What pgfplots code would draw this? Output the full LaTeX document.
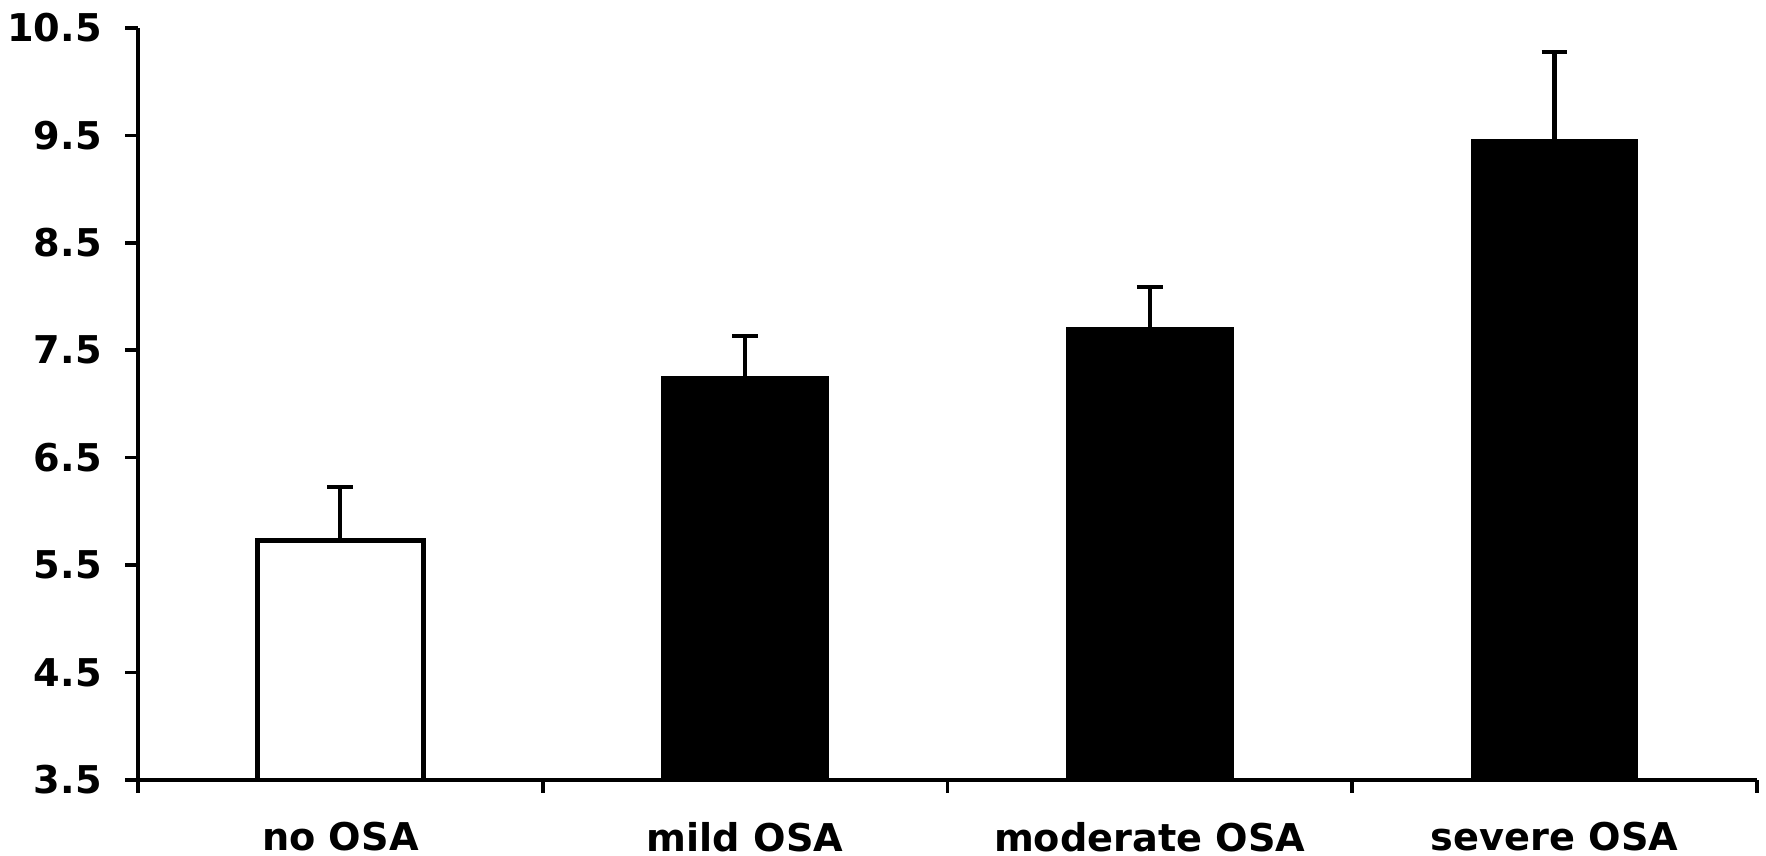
\documentclass[border=0pt]{standalone}
\usepackage{fontspec}
\setmainfont{DejaVu Sans}
\usepackage{pgfplots}
\pgfplotsset{compat=1.18}
\begin{document}
\begin{tikzpicture}
\begin{axis}[
  scale only axis,
  width=550pt, height=255.5pt,
  xmin=-0.5, xmax=3.5,
  ymin=3.5, ymax=10.5,
  ytick={3.5,4.5,...,10.5},
  yticklabel style={/pgf/number format/fixed, /pgf/number format/fixed zerofill, /pgf/number format/precision=1, xshift=-4.5pt},
  xtick={-0.5,0.5,1.5,2.5,3.5},
  xticklabels={{},{},{},{},{}},
  extra x ticks={0,1,2,3},
  extra x tick labels={no OSA, mild OSA, moderate OSA, severe OSA},
  extra x tick style={tick style={draw=none}, xticklabel style={yshift=-6.5pt}},
  axis lines=left,
  axis line style={-, line width=1.2pt},
  tick align=outside,
  major tick length=4.3pt,
  tick style={line width=1.2pt, black},
  /pgf/number format/assume math mode=true,
  ticklabel style={font=\fontsize{13}{15}\selectfont\bfseries},
  ybar,
  bar width=0.41,
  clip=false,
]
\coordinate (ll) at (rel axis cs:0,0);
\coordinate (ur) at (rel axis cs:1,1);
\addplot[bar shift=0pt, fill=white, draw=black, line width=1.6pt,
  error bars/.cd, y dir=plus, y explicit,
  error bar style={line width=1.4pt, black},
  error mark options={rotate=90, mark size=4.4pt, line width=1.4pt, black}]
  coordinates {(0,5.73) +- (0,0.50)};
\addplot[bar shift=0pt, fill=black, draw=black, line width=0.5pt,
  error bars/.cd, y dir=plus, y explicit,
  error bar style={line width=1.4pt, black},
  error mark options={rotate=90, mark size=4.4pt, line width=1.4pt, black}]
  coordinates {(1,7.25) +- (0,0.38) (2,7.71) +- (0,0.38) (3,9.46) +- (0,0.82)};
\end{axis}
\pgfresetboundingbox
\path[use as bounding box] ([xshift=-46.9pt,yshift=-25.8pt]ll) rectangle ([xshift=3.1pt,yshift=9.5pt]ur);
\end{tikzpicture}
\end{document}
